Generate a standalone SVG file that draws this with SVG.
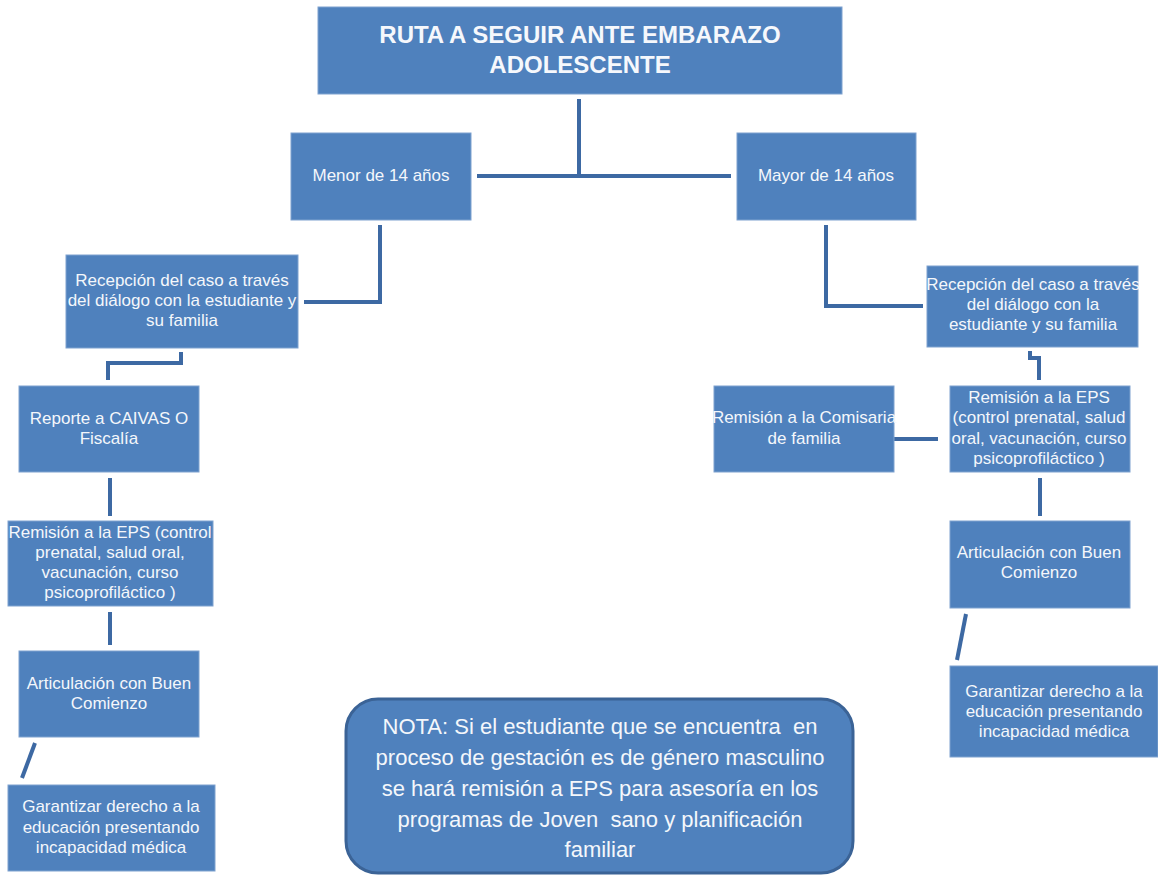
<svg xmlns="http://www.w3.org/2000/svg" width="1158" height="875" viewBox="0 0 1158 875">
<style>
.box{fill:#4f81bd;stroke:#7fa2cf;stroke-width:1}
.t{font-family:"Liberation Sans",Arial,sans-serif;font-size:17px;fill:#f4f7fb;text-anchor:middle}
.title{font-family:"Liberation Sans",Arial,sans-serif;font-size:24px;font-weight:bold;fill:#f6f8fc;text-anchor:middle}
.note{font-family:"Liberation Sans",Arial,sans-serif;font-size:22px;fill:#f4f7fb;text-anchor:middle;white-space:pre}
.c{fill:none;stroke:#3d69a3;stroke-width:4;stroke-linecap:butt;stroke-linejoin:miter}
</style>
<rect width="1158" height="875" fill="#ffffff"/>
<g id="connectors">
<polyline class="c" points="579,99 579,176"/>
<polyline class="c" points="477,176 731,176"/>
<polyline class="c" points="380,225 380,302 304,302"/>
<polyline class="c" points="826,225 826,306 923,306"/>
<polyline class="c" points="181,352 181,363 108,363 108,380"/>
<polyline class="c" points="110,478 110,516"/>
<polyline class="c" points="110,612 110,645"/>
<line class="c" x1="35" y1="743" x2="22" y2="778"/>
<polyline class="c" points="1030,351 1030,358 1039,358 1039,380"/>
<polyline class="c" points="894,439 938,439"/>
<polyline class="c" points="1040,478 1040,516"/>
<line class="c" x1="966" y1="614" x2="957" y2="660"/>
</g>
<g id="title">
<rect class="box" x="318" y="7" width="524" height="87"/>
<text class="title" x="580" y="43">RUTA A SEGUIR ANTE EMBARAZO</text>
<text class="title" x="580" y="73">ADOLESCENTE</text>
</g>
<g id="menor">
<rect class="box" x="291" y="133" width="180" height="87"/>
<text class="t" x="381" y="181">Menor de 14 años</text>
</g>
<g id="mayor">
<rect class="box" x="737" y="133" width="179" height="87"/>
<text class="t" x="826" y="181">Mayor de 14 años</text>
</g>
<g id="recepcion-izq">
<rect class="box" x="66" y="255" width="232" height="93"/>
<text class="t" x="182" y="286">Recepción del caso a través</text>
<text class="t" x="182" y="306">del diálogo con la estudiante y</text>
<text class="t" x="182" y="326">su familia</text>
</g>
<g id="reporte">
<rect class="box" x="19" y="386" width="180" height="86"/>
<text class="t" x="109" y="424">Reporte a CAIVAS O</text>
<text class="t" x="109" y="444">Fiscalía</text>
</g>
<g id="eps-izq">
<rect class="box" x="8" y="521" width="205" height="85"/>
<text class="t" x="110" y="538">Remisión a la EPS (control</text>
<text class="t" x="110" y="558">prenatal, salud oral,</text>
<text class="t" x="110" y="578">vacunación, curso</text>
<text class="t" x="110" y="598">psicoprofiláctico )</text>
</g>
<g id="articulacion-izq">
<rect class="box" x="19" y="651" width="180" height="86"/>
<text class="t" x="109" y="689">Articulación con Buen</text>
<text class="t" x="109" y="709">Comienzo</text>
</g>
<g id="garantizar-izq">
<rect class="box" x="8" y="785" width="207" height="86"/>
<text class="t" x="111" y="812">Garantizar derecho a la</text>
<text class="t" x="111" y="833">educación presentando</text>
<text class="t" x="111" y="853">incapacidad médica</text>
</g>
<g id="recepcion-der">
<rect class="box" x="927" y="266" width="211" height="81"/>
<text class="t" x="1033" y="290">Recepción del caso a través</text>
<text class="t" x="1033" y="310">del diálogo con la</text>
<text class="t" x="1033" y="330">estudiante y su familia</text>
</g>
<g id="comisaria">
<rect class="box" x="714" y="386" width="180" height="86"/>
<text class="t" x="804" y="423">Remisión a la Comisaria</text>
<text class="t" x="804" y="444">de familia</text>
</g>
<g id="eps-der">
<rect class="box" x="950" y="386" width="180" height="86"/>
<text class="t" x="1039" y="403">Remisión a la EPS</text>
<text class="t" x="1039" y="423">(control prenatal, salud</text>
<text class="t" x="1039" y="444">oral, vacunación, curso</text>
<text class="t" x="1039" y="464">psicoprofiláctico )</text>
</g>
<g id="articulacion-der">
<rect class="box" x="950" y="521" width="180" height="87"/>
<text class="t" x="1039" y="558">Articulación con Buen</text>
<text class="t" x="1039" y="578">Comienzo</text>
</g>
<g id="garantizar-der">
<rect class="box" x="950" y="666" width="208" height="91"/>
<text class="t" x="1054" y="697">Garantizar derecho a la</text>
<text class="t" x="1054" y="717">educación presentando</text>
<text class="t" x="1054" y="737">incapacidad médica</text>
</g>
<g id="nota">
<rect x="346" y="699" width="507" height="174" rx="32" ry="32" fill="#4f81bd" stroke="#3b6396" stroke-width="3"/>
<text class="note" x="600" y="734">NOTA: Si el estudiante que se encuentra  en</text>
<text class="note" x="600" y="765">proceso de gestación es de género masculino</text>
<text class="note" x="600" y="796">se hará remisión a EPS para asesoría en los</text>
<text class="note" x="600" y="827">programas de Joven  sano y planificación</text>
<text class="note" x="600" y="857">familiar</text>
</g>
</svg>
